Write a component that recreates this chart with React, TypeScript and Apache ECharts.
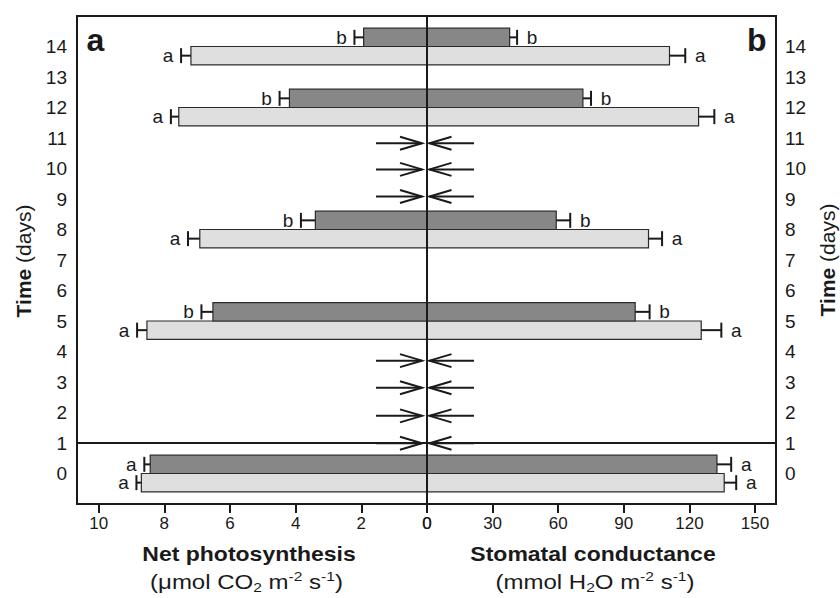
import React, { useEffect, useRef } from 'react';
import * as echarts from 'echarts';

// ---- data ----
const days = [0, 5, 8, 12, 14];
const dayTicks = [0, 1, 2, 3, 4, 5, 6, 7, 8, 9, 10, 11, 12, 13, 14];
const photoTicks = [0, 2, 4, 6, 8, 10];
const condTicks = [0, 30, 60, 90, 120, 150];

// Net photosynthesis (µmol CO2 m-2 s-1)
const photoControl = [8.7, 8.53, 6.92, 7.56, 7.19];
const photoControlSE = [0.15, 0.3, 0.36, 0.24, 0.3];
const photoTreated = [8.43, 6.52, 3.4, 4.19, 1.93];
const photoTreatedSE = [0.18, 0.35, 0.44, 0.3, 0.28];

// Stomatal conductance (mmol H2O m-2 s-1)
const condControl = [135.9, 125.4, 101.3, 124.2, 110.9];
const condControlSE = [5.5, 9.2, 6.2, 7.2, 7.2];
const condTreated = [132.6, 95.2, 59.1, 71.3, 37.8];
const condTreatedSE = [6.5, 6.6, 6.4, 3.7, 3.4];

const controlLetters = ['a', 'a', 'a', 'a', 'a'];
const treatedLetters = ['a', 'b', 'b', 'b', 'b'];

// days with no measurement (arrows)
const arrowDays = [0.99, 1.89, 2.81, 3.7, 9.08, 9.97, 10.83];
const dividerDay = 1;

const yMin = -1;
const yMax = 15;
const photoMax = 10.66;
const condMax = 159.6;

const FONT = "'Liberation Sans', Arial, Helvetica, sans-serif";
const INK = '#1a1a1a';
const DARK = '#878787';
const LIGHT = '#dfdfdf';

function barSeries(
  name: string,
  idx: number,
  values: number[],
  errs: number[],
  letters: string[],
  upper: boolean,
  fill: string
) {
  return {
    type: 'custom',
    name,
    xAxisIndex: idx,
    yAxisIndex: idx,
    z: 3,
    silent: true,
    data: days.map((d, i) => [values[i], d, errs[i]]),
    renderItem: (params: any, api: any) => {
      const v = api.value(0);
      const d = api.value(1);
      const e = api.value(2);
      const y0 = upper ? d + 0.6 : d;
      const y1 = upper ? d : d - 0.6;
      const ym = (y0 + y1) / 2;
      const a = api.coord([0, y0]);
      const b = api.coord([v, y1]);
      const end = api.coord([v, ym]);
      const cap = api.coord([v + e, ym]);
      const dir = cap[0] > end[0] ? 1 : -1;
      const off = dir > 0 ? 15 : 13;
      return {
        type: 'group',
        children: [
          {
            type: 'rect',
            shape: {
              x: Math.min(a[0], b[0]),
              y: Math.min(a[1], b[1]),
              width: Math.abs(b[0] - a[0]),
              height: Math.abs(b[1] - a[1]),
            },
            style: { fill, stroke: '#2a2a2a', lineWidth: 1.2 },
          },
          {
            type: 'line',
            shape: { x1: end[0], y1: end[1], x2: cap[0], y2: cap[1] },
            style: { stroke: INK, lineWidth: 2 },
          },
          {
            type: 'line',
            shape: { x1: cap[0], y1: cap[1] - 7.5, x2: cap[0], y2: cap[1] + 7.5 },
            style: { stroke: INK, lineWidth: 2 },
          },
          {
            type: 'text',
            x: cap[0] + dir * off,
            y: cap[1],
            style: {
              text: letters[params.dataIndex],
              fill: INK,
              font: `19px ${FONT}`,
              align: 'center',
              verticalAlign: 'middle',
              textAlign: 'center',
              textVerticalAlign: 'middle',
            },
          },
        ],
      };
    },
  };
}

function arrowSeries(idx: number, side: number, markData: any[]) {
  return {
    type: 'custom',
    xAxisIndex: idx,
    yAxisIndex: idx,
    z: 5,
    silent: true,
    data: arrowDays.map((d) => [0, d]),
    renderItem: (params: any, api: any) => {
      const c = api.coord([0, api.value(1)]);
      const tip = side < 0 ? c[0] - 5 : c[0] + 2.5;
      const tail = side < 0 ? c[0] - 51 : c[0] + 47;
      const back = side < 0 ? tip - 22 : tip + 22;
      return {
        type: 'group',
        children: [
          {
            type: 'line',
            shape: { x1: tail, y1: c[1], x2: tip, y2: c[1] },
            style: { stroke: INK, lineWidth: 2 },
          },
          {
            type: 'polyline',
            shape: { points: [[back, c[1] - 6.5], [tip, c[1]], [back, c[1] + 6.5]] },
            style: { stroke: INK, lineWidth: 2, fill: 'none' },
          },
        ],
      };
    },
    markLine: {
      silent: true,
      symbol: 'none',
      label: { show: false },
      lineStyle: { color: INK, width: 2, type: 'solid' },
      data: markData,
    },
  };
}

const xAxisCommon = (ticks: number[]) => ({
  type: 'value',
  axisLine: { show: false, onZero: false },
  axisTick: {
    show: true,
    customValues: ticks,
    length: 9,
    inside: false,
    lineStyle: { color: INK, width: 2 },
  },
  axisLabel: {
    customValues: ticks,
    margin: 11,
    fontSize: 17,
    fontFamily: FONT,
    color: INK,
  },
  splitLine: { show: false },
});

const yAxisCommon = (position: string, margin: number) => ({
  type: 'value',
  min: yMin,
  max: yMax,
  position,
  axisLine: { show: false, onZero: false },
  axisTick: { show: false },
  axisLabel: {
    customValues: dayTicks,
    margin,
    fontSize: 19,
    fontFamily: FONT,
    color: INK,
  },
  splitLine: { show: false },
});

const subRich = {
  n: { fontSize: 20, fontFamily: FONT, color: INK, lineHeight: 24 },
  sub: { fontSize: 13, fontFamily: FONT, color: INK, verticalAlign: 'bottom' },
  sup: { fontSize: 13, fontFamily: FONT, color: INK, verticalAlign: 'top' },
};

const timeRich = {
  b: { fontSize: 21, fontWeight: 'bold', fontFamily: FONT, color: INK },
  r: { fontSize: 21, fontFamily: FONT, color: INK },
};

const textStyle = (text: string, font: string) => ({
  text,
  font,
  fill: INK,
  align: 'center',
  verticalAlign: 'middle',
  textAlign: 'center',
  textVerticalAlign: 'middle',
});

const option: any = {
  animation: false,
  backgroundColor: '#ffffff',
  grid: [
    { left: 77, top: 16, width: 350, height: 488, show: true, borderColor: INK, borderWidth: 2, backgroundColor: 'transparent' },
    { left: 427, top: 16, width: 349, height: 488, show: true, borderColor: INK, borderWidth: 2, backgroundColor: 'transparent' },
  ],
  xAxis: [
    { ...xAxisCommon(photoTicks), gridIndex: 0, min: 0, max: photoMax, inverse: true },
    { ...xAxisCommon(condTicks), gridIndex: 1, min: 0, max: condMax },
  ],
  yAxis: [
    { ...yAxisCommon('left', 10), gridIndex: 0 },
    { ...yAxisCommon('right', 9), gridIndex: 1 },
  ],
  series: [
    barSeries('Net photosynthesis control', 0, photoControl, photoControlSE, controlLetters, false, LIGHT),
    barSeries('Net photosynthesis treated', 0, photoTreated, photoTreatedSE, treatedLetters, true, DARK),
    barSeries('Stomatal conductance control', 1, condControl, condControlSE, controlLetters, false, LIGHT),
    barSeries('Stomatal conductance treated', 1, condTreated, condTreatedSE, treatedLetters, true, DARK),
    arrowSeries(0, -1, [{ xAxis: 0 }, { yAxis: dividerDay }]),
    arrowSeries(1, 1, [{ yAxis: dividerDay }]),
  ],
  graphic: [
    { type: 'text', x: 95.5, y: 40, style: textStyle('a', `bold 32px ${FONT}`) },
    { type: 'text', x: 756.7, y: 40, style: textStyle('b', `bold 32px ${FONT}`) },
    { type: 'text', x: 249, y: 554, scaleX: 1.15, style: textStyle('Net photosynthesis', `bold 20px ${FONT}`) },
    { type: 'text', x: 593, y: 554, scaleX: 1.15, style: textStyle('Stomatal conductance', `bold 20px ${FONT}`) },
    {
      type: 'text',
      x: 246.5,
      y: 582,
      scaleX: 1.2,
      style: {
        ...textStyle('{n|(μmol CO}{sub|2}{n| m}{sup|-2}{n| s}{sup|-1}{n|)}', `20px ${FONT}`),
        rich: subRich,
      },
    },
    {
      type: 'text',
      x: 595,
      y: 582,
      scaleX: 1.2,
      style: {
        ...textStyle('{n|(mmol H}{sub|2}{n|O m}{sup|-2}{n| s}{sup|-1}{n|)}', `20px ${FONT}`),
        rich: subRich,
      },
    },
    {
      type: 'text',
      x: 23,
      y: 261,
      rotation: Math.PI / 2,
      style: { ...textStyle('{b|Time}{r| (days)}', `21px ${FONT}`), rich: timeRich },
    },
    {
      type: 'text',
      x: 827,
      y: 260,
      rotation: Math.PI / 2,
      style: { ...textStyle('{b|Time}{r| (days)}', `21px ${FONT}`), rich: timeRich },
    },
  ],
};

export default function App() {
  const ref = useRef<HTMLDivElement>(null);
  useEffect(() => {
    document.body.style.margin = '0';
    const chart = echarts.init(ref.current!, null, { renderer: 'svg' });
    chart.setOption(option);
    return () => chart.dispose();
  }, []);
  return (
    <div
      ref={ref}
      style={{ position: 'fixed', left: 0, top: 0, width: 840, height: 598 }}
    />
  );
}
